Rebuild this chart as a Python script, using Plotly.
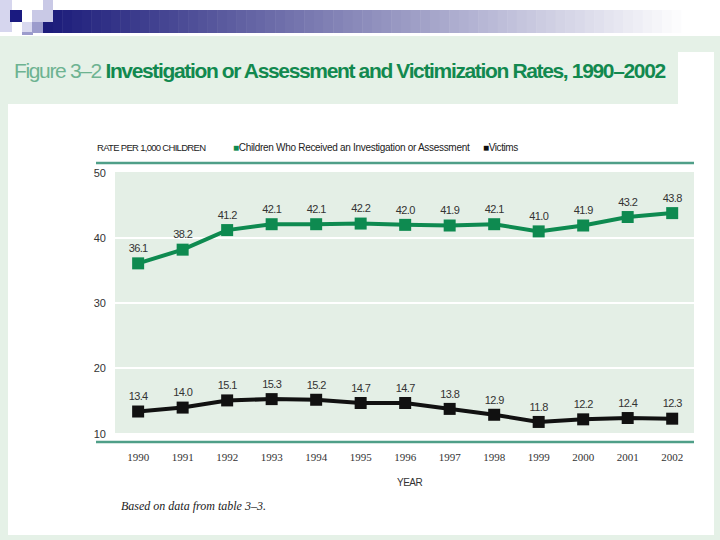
import plotly.graph_objects as go

# ---- data ----
years = [1990, 1991, 1992, 1993, 1994, 1995, 1996, 1997, 1998, 1999, 2000, 2001, 2002]
investigated = [36.1, 38.2, 41.2, 42.1, 42.1, 42.2, 42.0, 41.9, 42.1, 41.0, 41.9, 43.2, 43.8]
victims = [13.4, 14.0, 15.1, 15.3, 15.2, 14.7, 14.7, 13.8, 12.9, 11.8, 12.2, 12.4, 12.3]
y_ticks = [10, 20, 30, 40, 50]
series_names = ["Children Who Received an Investigation or Assessment", "Victims"]

GREEN = "#0e8a50"
BLACK = "#111111"
TEAL = "#4f9f88"
BAND = "#e5f1e7"
PLOTBG = "#e4efe6"
SANS = "Liberation Sans, Arial, sans-serif"
SERIF = "Liberation Serif, serif"

# plot area in pixels
L, R, T, B = 115, 694, 172, 435
def px(x):
    return (x - L) / (R - L)
def py(y):
    return (B - y) / (B - T)

shapes = []
def rect(x0, y0, x1, y1, color, layer="below"):
    shapes.append(dict(type="rect", xref="paper", yref="paper",
                       x0=px(x0), x1=px(x1), y0=py(y1), y1=py(y0),
                       fillcolor=color, line=dict(width=0), layer=layer))

# white top strip
rect(0, 0, 720, 36, "white")
# gradient bar
n = 70
x_start, x_end = 43, 720
c0 = (28, 28, 122)
for i in range(n):
    t = i / (n - 1)
    c = tuple(int(c0[k] + (255 - c0[k]) * min(1, t * 1.05)) for k in range(3))
    xa = x_start + (x_end - x_start) * i / n
    xb = x_start + (x_end - x_start) * (i + 1) / n + 0.5
    rect(xa, 10, xb, 33, "rgb(%d,%d,%d)" % c)
# decorative squares
rect(0, 0, 12, 32, "#d6d6ee")
rect(10, 10, 22, 22, "#1a1a80")
rect(32, 10, 53, 22, "#c9c9e6")
rect(43, 0, 53, 10, "#c9c9e6")
rect(22, 22, 32, 32, "#d9d9ef")
rect(32, 22, 43, 33, "#9c9ccc")
rect(22, 32, 33, 35, "#9c9ccc")
# white content areas
rect(8, 104, 714, 535, "white")
rect(678, 52, 714, 104, "white")
# plot background
rect(L, T, R, B, PLOTBG)
# teal rules
for yy in (163, 442):
    shapes.append(dict(type="line", xref="paper", yref="paper",
                       x0=px(96), x1=px(694), y0=py(yy), y1=py(yy),
                       line=dict(color=TEAL, width=2.5), layer="below"))

def tight(s, ls):
    return "<span style='letter-spacing:%spx'>%s</span>" % (ls, s)

fig = go.Figure()
fig.add_trace(go.Scatter(
    x=years, y=investigated, name=series_names[0],
    mode="lines+markers+text",
    line=dict(color=GREEN, width=4),
    marker=dict(symbol="square", size=12, color=GREEN),
    text=[tight("%.1f" % v, -0.6) for v in investigated], textposition="top center",
    textfont=dict(family=SANS, size=11, color="#333333"),
    cliponaxis=False,
))
fig.add_trace(go.Scatter(
    x=years, y=victims, name=series_names[1],
    mode="lines+markers+text",
    line=dict(color=BLACK, width=4),
    marker=dict(symbol="square", size=12, color=BLACK),
    text=[tight("%.1f" % v, -0.6) for v in victims], textposition="top center",
    textfont=dict(family=SANS, size=11, color="#333333"),
    cliponaxis=False,
))

annotations = [
    dict(x=px(12), y=py(70), xref="paper", yref="paper", xanchor="left", yanchor="middle",
         showarrow=False,
         text="<span style='letter-spacing:-1.35px'><span style='color:#6db391'>Figure 3–2</span> "
              "<b>Investigation or Assessment and Victimization Rates, 1990–2002</b></span>",
         font=dict(family=SANS, size=21, color="#12894f")),
    dict(x=px(95), y=py(147), xref="paper", yref="paper", xanchor="left", yanchor="middle",
         showarrow=False, text=tight("RATE PER 1,000 CHILDREN", -0.7),
         font=dict(family=SANS, size=9.5, color="#222222")),
    dict(x=px(231), y=py(147), xref="paper", yref="paper", xanchor="left", yanchor="middle",
         showarrow=False,
         text=tight("<span style='color:%s'>■</span>%s" % (GREEN, series_names[0]), -0.3),
         font=dict(family=SANS, size=10, color="#222222")),
    dict(x=px(481), y=py(147), xref="paper", yref="paper", xanchor="left", yanchor="middle",
         showarrow=False,
         text=tight("<span style='color:%s'>■</span>%s" % (BLACK, series_names[1]), -0.4),
         font=dict(family=SANS, size=10, color="#222222")),
    dict(x=px(395), y=py(482), xref="paper", yref="paper", xanchor="left", yanchor="middle",
         showarrow=False, text=tight("YEAR", -0.5),
         font=dict(family=SANS, size=10, color="#333333")),
    dict(x=px(119), y=py(506), xref="paper", yref="paper", xanchor="left", yanchor="middle",
         showarrow=False, text="<i>Based on data from table 3–3.</i>",
         font=dict(family=SERIF, size=12, color="#222222")),
]

fig.update_layout(
    width=720, height=540,
    margin=dict(l=L, r=720 - R, t=T, b=540 - B, pad=0),
    paper_bgcolor=BAND, plot_bgcolor="rgba(0,0,0,0)",
    showlegend=False,
    shapes=shapes, annotations=annotations,
    xaxis=dict(range=[1989.48, 2002.49], tickmode="array", tickvals=years,
               ticktext=[str(y) for y in years], showgrid=False, zeroline=False,
               showline=False, ticks="", ticklabelstandoff=14,
               tickfont=dict(family=SERIF, size=11, color="#333333")),
    yaxis=dict(range=[9.8, 50.1], tickmode="array", tickvals=y_ticks,
               showgrid=True, gridcolor="white", gridwidth=2, zeroline=False,
               showline=False, ticks="", ticklabelstandoff=8,
               tickfont=dict(family=SANS, size=11, color="#333333")),
)

fig.write_html("out.html", config={"displayModeBar": False},
               post_script="document.body.style.margin='0';")
